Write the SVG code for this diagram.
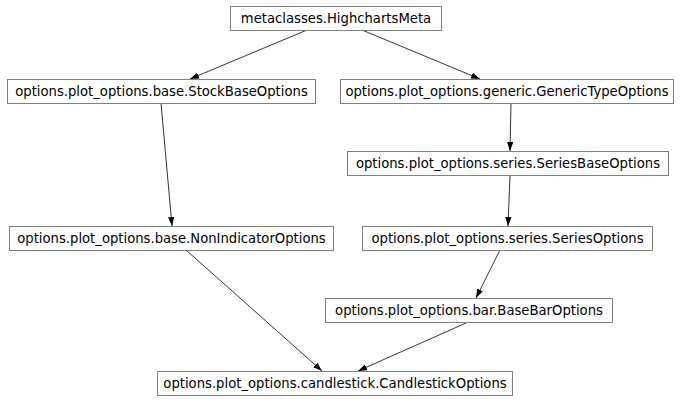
<svg xmlns="http://www.w3.org/2000/svg" width="685" height="403" viewBox="0 0 685 403">
<style>
.n rect{fill:#fff;stroke:#808080;stroke-width:1}
.n text{font-family:"DejaVu Sans",sans-serif;font-size:13.2px;fill:#000;text-anchor:middle}
.e line{stroke:#000;stroke-width:0.8;marker-end:url(#a)}
</style>
<defs>
<marker id="a" viewBox="0 0 10 7" refX="10" refY="3.5" markerWidth="9" markerHeight="6.5" markerUnits="userSpaceOnUse" orient="auto">
<path d="M0,0L10,3.5L0,7z" fill="#000"/>
</marker>
</defs>
<rect width="685" height="403" fill="#fff"/>
<g id="edges" class="e">
<line x1="307" y1="30" x2="190" y2="79"/>
<line x1="362" y1="30" x2="480" y2="79"/>
<line x1="161" y1="103" x2="172" y2="226"/>
<line x1="511" y1="103" x2="510" y2="151"/>
<line x1="510" y1="176" x2="508" y2="226"/>
<line x1="186" y1="250" x2="322" y2="371"/>
<line x1="500" y1="250" x2="476" y2="298"/>
<line x1="466" y1="323" x2="358" y2="371"/>
</g>
<g id="meta" class="n"><rect x="230.5" y="6.5" width="211" height="24"/><text x="336" y="23.3">metaclasses.HighchartsMeta</text></g>
<g id="stockbase" class="n"><rect x="7.5" y="79.5" width="308" height="24"/><text x="161.5" y="96.3">options.plot_options.base.StockBaseOptions</text></g>
<g id="generic" class="n"><rect x="340.5" y="79.5" width="333" height="24"/><text x="507" y="96.3">options.plot_options.generic.GenericTypeOptions</text></g>
<g id="seriesbase" class="n"><rect x="347.5" y="151.5" width="321" height="24"/><text x="508" y="168.3">options.plot_options.series.SeriesBaseOptions</text></g>
<g id="nonindicator" class="n"><rect x="9.5" y="226.5" width="324" height="24"/><text x="171.5" y="243.3">options.plot_options.base.NonIndicatorOptions</text></g>
<g id="series" class="n"><rect x="362.5" y="226.5" width="290" height="24"/><text x="507.5" y="243.3">options.plot_options.series.SeriesOptions</text></g>
<g id="basebar" class="n"><rect x="325.5" y="298.5" width="287" height="24"/><text x="469" y="315.3">options.plot_options.bar.BaseBarOptions</text></g>
<g id="candlestick" class="n"><rect x="157.5" y="371.5" width="355" height="24"/><text x="335" y="388.3">options.plot_options.candlestick.CandlestickOptions</text></g>
</svg>
